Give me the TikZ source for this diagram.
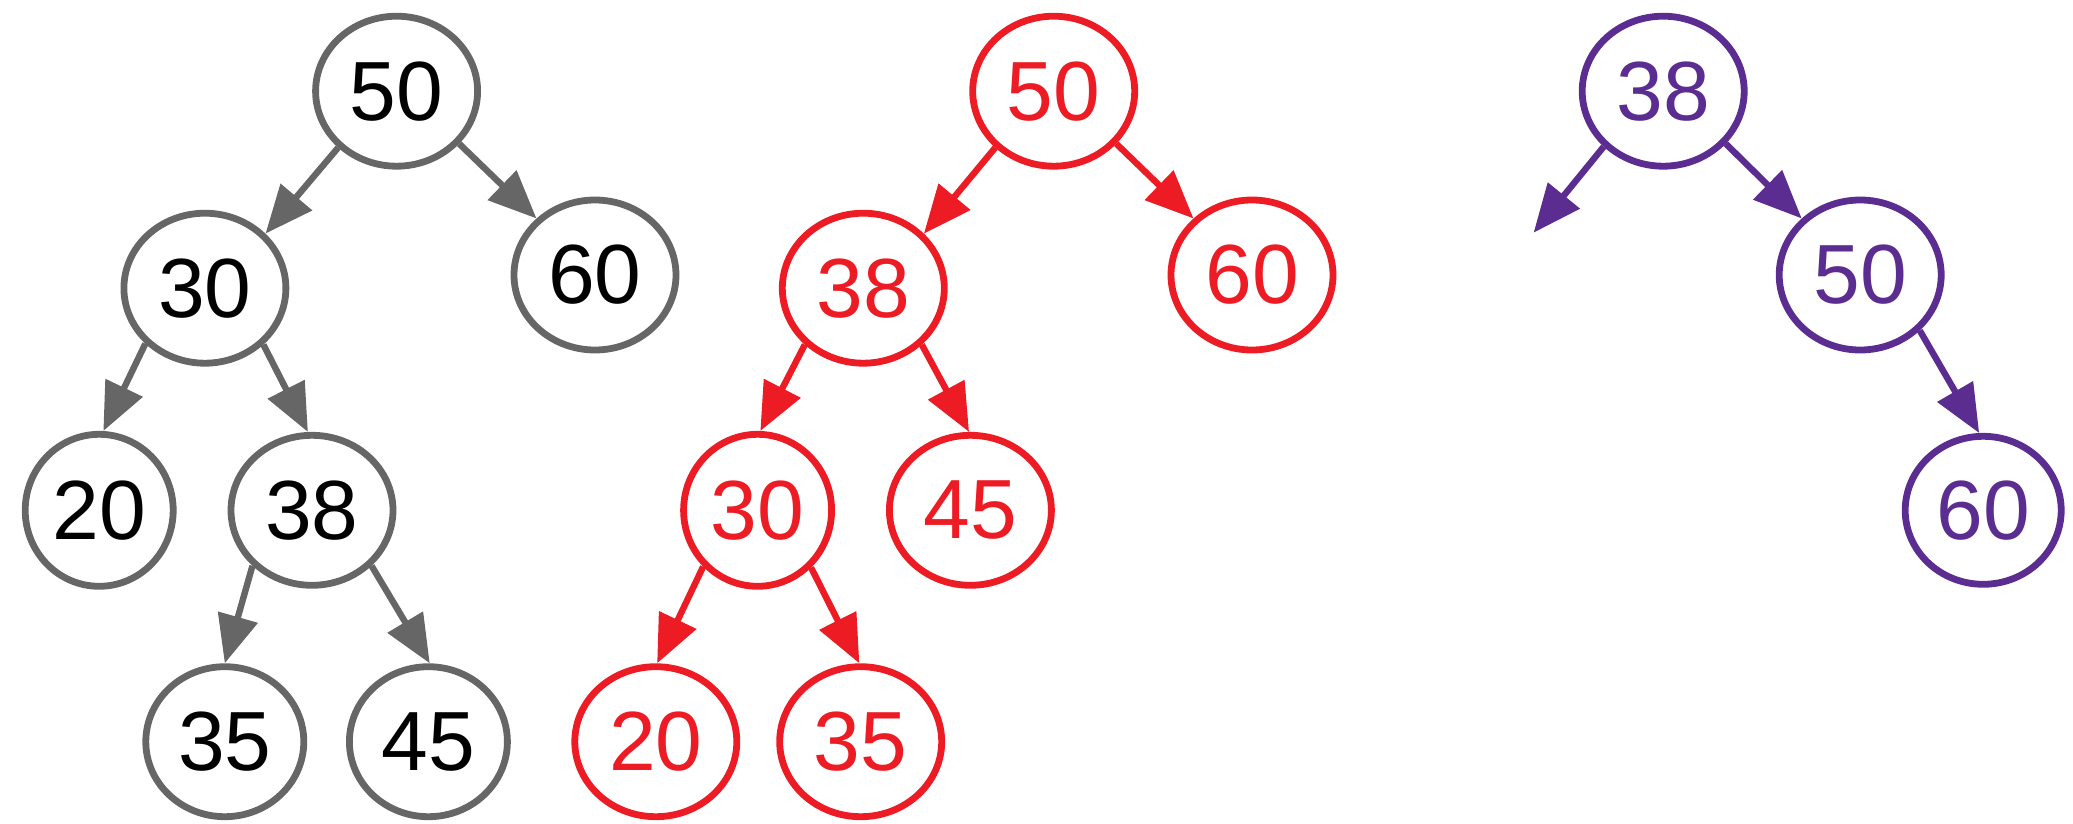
\documentclass[tikz,border=0pt]{standalone}
\usepackage{fontspec}
\setmainfont{Liberation Sans}
\usetikzlibrary{arrows.meta,shapes.geometric}
\definecolor{treeGrey}{HTML}{666666}
\definecolor{treeRed}{HTML}{ED1C24}
\definecolor{treePurple}{HTML}{5B2D90}

\begin{document}
\begin{tikzpicture}[x=0.5pt,y=-0.5pt,
  key/.style={ellipse,draw,line width=3.4pt,minimum width=81pt,minimum height=75pt,
              inner sep=0pt,font=\fontsize{42}{50}\selectfont},
  slim/.style={minimum width=74pt,minimum height=76pt},
  link/.style={line width=3.2pt,-{Triangle[length=24pt,width=20pt]}},
  greyKey/.style={key,draw=treeGrey,text=black},
  redKey/.style={key,draw=treeRed,text=treeRed},
  purpleKey/.style={key,draw=treePurple,text=treePurple}]
\useasboundingbox (0,0) rectangle (2073,824);

% original tree
\node[greyKey] (g50) at (396.6,91.2) {50};
\node[greyKey] (g30) at (204.9,288.2) {30};
\node[greyKey] (g60) at (595,275) {60};
\node[greyKey,slim] (g20) at (99.2,510.3) {20};
\node[greyKey] (g38) at (312,510.3) {38};
\node[greyKey,minimum width=79pt] (g35) at (224.8,741.7) {35};
\node[greyKey,minimum width=79pt] (g45) at (428.4,741.7) {45};
\begin{scope}[color=treeGrey]
\draw[link] (g50.224) -- (g30.42);
\draw[link] (g50.320) -- (g60.136);
\draw[link] (g30.223) -- (g20.87);
\draw[link] (g30.316) -- (g38.93);
\draw[link] (g38.223) -- (g35.90);
\draw[link] (g38.317) -- (g45.89);
\end{scope}

% after deleting
\node[redKey] (r50) at (1053.7,91.2) {50};
\node[redKey] (r38) at (863.3,288.2) {38};
\node[redKey] (r60) at (1252,275) {60};
\node[redKey,slim] (r30) at (757.6,510.3) {30};
\node[redKey] (r45) at (970.4,510.3) {45};
\node[redKey] (r20) at (655.8,741.7) {20};
\node[redKey] (r35) at (860.7,741.7) {35};
\begin{scope}[color=treeRed]
\draw[link] (r50.224) -- (r38.42);
\draw[link] (r50.320) -- (r60.136);
\draw[link] (r38.224) -- (r30.88);
\draw[link] (r38.316) -- (r45.91);
\draw[link] (r30.226) -- (r20.89);
\draw[link] (r30.313) -- (r35.91);
\end{scope}

% right part
\node[purpleKey] (p38) at (1663.2,91.2) {38};
\node[purpleKey] (p50) at (1860.2,275) {50};
\node[purpleKey,minimum width=78pt,minimum height=74pt] (p60) at (1983.2,510.3) {60};
\coordinate (pnil) at (1533.6,232.7);
\begin{scope}[color=treePurple]
\draw[link] (p38.223) -- (pnil);
\draw[link] (p38.320) -- (p50.136);
\draw[link] (p50.317) -- (p60.93);
\end{scope}
\end{tikzpicture}
\end{document}
